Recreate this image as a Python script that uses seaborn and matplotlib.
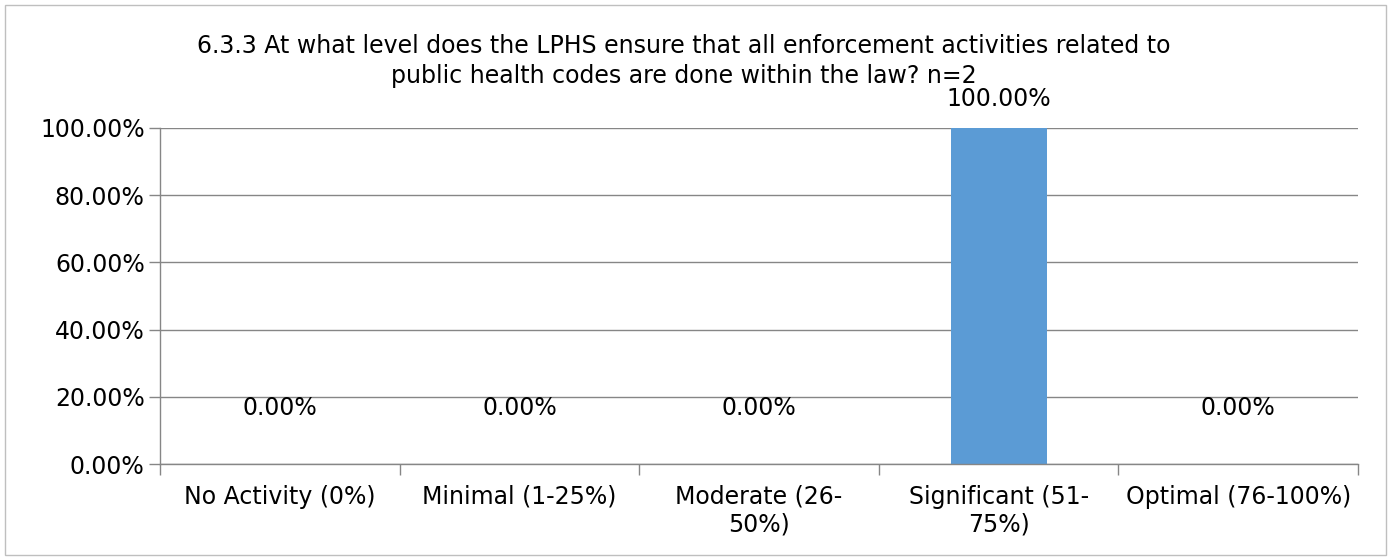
import numpy as np
import pandas as pd
import seaborn as sns
import matplotlib.pyplot as plt
from matplotlib.patches import Rectangle
from matplotlib.ticker import PercentFormatter

# data
categories = ["No Activity (0%)", "Minimal (1-25%)", "Moderate (26-\n50%)",
              "Significant (51-\n75%)", "Optimal (76-100%)"]
shares = [0.0, 0.0, 0.0, 1.0, 0.0]
title = ("6.3.3 At what level does the LPHS ensure that all enforcement activities related to\n"
         "public health codes are done within the law? n=2")

df = pd.DataFrame({"level": categories, "share": shares})

sns.set_style("white")
plt.rcParams["font.family"] = ["DejaVu Sans"]
plt.rcParams["text.color"] = "black"
plt.rcParams["xtick.color"] = "black"
plt.rcParams["ytick.color"] = "black"
fs = 17

fig = plt.figure(figsize=(13.91, 5.59), dpi=100)
ax = fig.add_axes([160/1391, 1-464/559, (1358-160)/1391, (464-128)/559])

sns.barplot(data=df, x="level", y="share", color="#5B9BD5", width=0.4,
            saturation=1, edgecolor="none", linewidth=0, ax=ax)

ax.set_ylim(0, 1)
ax.set_xlim(-0.5, 4.5)
ax.set_yticks(np.arange(0, 1.01, 0.2))
ax.yaxis.set_major_formatter(PercentFormatter(1.0, decimals=2))
ax.yaxis.grid(True, color="#868686", linewidth=1)
ax.set_axisbelow(True)
ax.set_xlabel("")
ax.set_ylabel("")

# excel style ticks between categories
ax.set_xticks(range(len(categories)))
ax.set_xticklabels(categories, linespacing=1.2)
ax.set_xticks(np.arange(-0.5, 5, 1), minor=True)
ax.tick_params(axis="x", which="major", length=0, pad=15, labelsize=fs)
ax.tick_params(axis="x", which="minor", length=8, color="#868686", width=1)
ax.tick_params(axis="y", length=8, color="#868686", labelcolor="black", width=1,
               labelsize=fs, pad=3)
ax.yaxis.set_ticks_position("left")
ax.xaxis.set_ticks_position("bottom")

for s in ["top", "right"]:
    ax.spines[s].set_visible(False)
for s in ["left", "bottom"]:
    ax.spines[s].set_color("#868686")
    ax.spines[s].set_linewidth(1)

for i, v in enumerate(shares):
    off = 21 if v > 0 else 40
    ax.annotate(f"{v*100:.2f}%", (i, v), xytext=(0, off), textcoords="offset points",
                ha="center", va="center", fontsize=fs, annotation_clip=False)

fig.text(684/1391, 1-61/559, title, ha="center", va="center", fontsize=fs,
         linespacing=1.35)

fig.patches.append(Rectangle((5/1391, 4/559), 1381/1391, 550/559, transform=fig.transFigure,
                             fill=False, edgecolor="#BFBFBF", linewidth=1))

plt.savefig("out.png", dpi=100)
